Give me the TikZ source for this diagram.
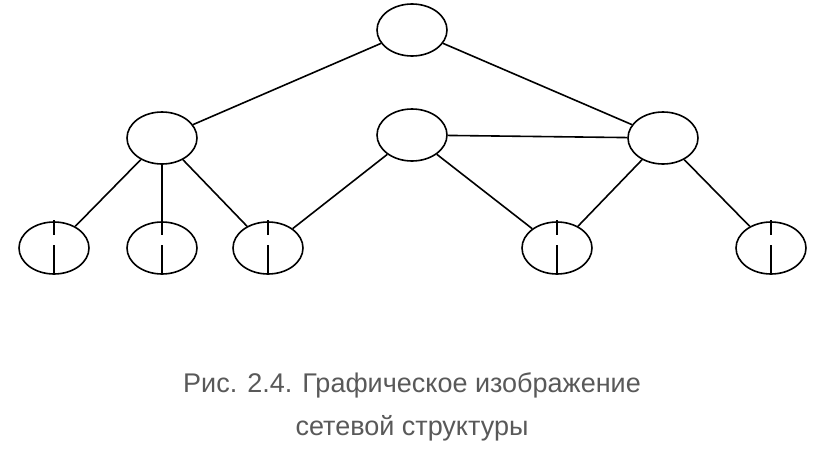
\documentclass[tikz,border=0pt]{standalone}
\usepackage{fontspec}
\setmainfont{Liberation Sans}
\usetikzlibrary{shapes.geometric}
\begin{document}
\begin{tikzpicture}[x=1pt,y=-1pt,
  nd/.style={draw,ellipse,line width=1.6pt,minimum width=70pt,minimum height=52pt,inner sep=0pt},
  ed/.style={line width=1.6pt},
  captext/.style={text=black!65,font=\fontsize{27}{32}\selectfont}]
\useasboundingbox (0,0) rectangle (828,472);
\node[nd] (t) at (412,30) {};
\node[nd] (a) at (162,138) {};
\node[nd] (b) at (412,135) {};
\node[nd] (c) at (663,138) {};
\node[nd] (l1) at (54,248) {};
\node[nd] (l2) at (162,248) {};
\node[nd] (l3) at (268,248) {};
\node[nd] (l4) at (557,248) {};
\node[nd] (l5) at (771,248) {};
\draw[ed] (t) -- (a);
\draw[ed] (t) -- (c);
\draw[ed] (b) -- (c);
\draw[ed] (a) -- (l1);
\draw[ed] (a.south) -- (l2.north);
\draw[ed] (a) -- (l3);
\draw[ed] (b) -- (l3);
\draw[ed] (b) -- (l4);
\draw[ed] (c) -- (l4);
\draw[ed] (c) -- (l5);
\foreach \n in {l1,l2,l3,l4,l5}{
  \coordinate (\n a) at ([yshift=30pt]\n.south);
  \coordinate (\n b) at ([yshift=40pt]\n.south);
  \coordinate (\n c) at ([yshift=55pt]\n.south);
  \draw[ed] (\n.south) -- (\n a);
  \draw[ed] (\n b) -- (\n c);
}
\node[captext] (cap1) at (412,385) {Рис. 2.4. Графическое изображение};
\node[captext] (cap2) at (412,428) {сетевой структуры};
\end{tikzpicture}
\end{document}
